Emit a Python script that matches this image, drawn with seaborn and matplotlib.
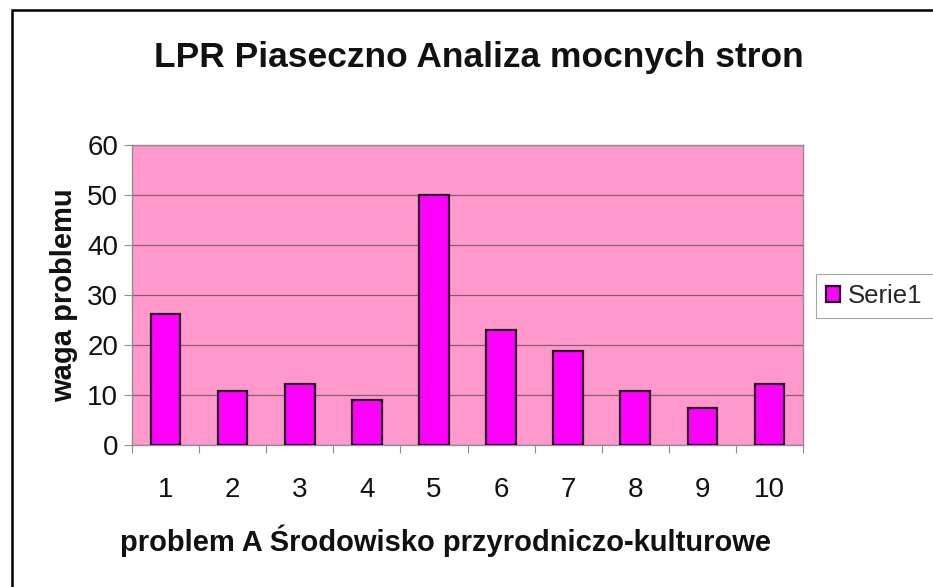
import numpy as np
import pandas as pd
import matplotlib
matplotlib.use('Agg')
import matplotlib.pyplot as plt
from matplotlib.patches import Rectangle
from matplotlib.ticker import FixedLocator
import seaborn as sns

# dane
problemy = ['1', '2', '3', '4', '5', '6', '7', '8', '9', '10']
waga = [26.2, 10.8, 12.2, 9.0, 50.0, 23.0, 18.9, 10.8, 7.4, 12.2]
tytul = 'LPR Piaseczno Analiza mocnych stron'
os_x = 'problem A Środowisko przyrodniczo-kulturowe'
os_y = 'waga problemu'
seria = 'Serie1'

sns.set_style('white')
plt.rcParams['font.family'] = ['Liberation Sans', 'DejaVu Sans']

df = pd.DataFrame({'problem': problemy, 'waga': waga})

fig = plt.figure(figsize=(9.33, 5.87), dpi=100)
ax = fig.add_axes([132 / 933, 1 - 445 / 587, (803 - 132) / 933, (445 - 145) / 587])
ax.set_facecolor('#ff99cc')

sns.barplot(data=df, x='problem', y='waga', ax=ax, color='#ff00ff', saturation=1,
            edgecolor='#2a0a2a', linewidth=1.6, width=0.44, label=seria, zorder=3)
if ax.get_legend() is not None:
    ax.get_legend().remove()

ax.set_ylim(0, 60)
ax.set_xlim(-0.5, 9.5)
ax.set_yticks(np.arange(0, 61, 10))
ax.yaxis.grid(True, color='#8a5a70', linewidth=0.9, zorder=1)
ax.set_axisbelow(True)
for s in ax.spines.values():
    s.set_color('#909090')
    s.set_linewidth(1.0)

ax.tick_params(axis='y', which='major', length=6, width=0.8, color='#909090',
               labelsize=20, pad=4, direction='out', left=True, labelcolor='#111111')
ax.tick_params(axis='x', which='major', length=0, labelsize=20, pad=23, labelcolor='#111111')
ax.xaxis.set_minor_locator(FixedLocator(np.arange(-0.5, 10, 1)))
ax.tick_params(axis='x', which='minor', length=6, width=0.8, color='#909090',
               direction='out', bottom=True)

ax.set_xlabel(os_x, fontsize=21, fontweight='bold', color='#111111', va='center')
ax.xaxis.set_label_coords((446 - 132) / 671, -(541 - 445) / 300)
ax.set_ylabel(os_y, fontsize=21, fontweight='bold', color='#111111')
ax.yaxis.set_label_coords(-(132 - 78) / 671, 0.5)

fig.text(479 / 933, 1 - 57 / 587, tytul, ha='center', va='center',
         fontsize=25.5, fontweight='bold', color='#111111')

h, l = ax.get_legend_handles_labels()
leg = fig.legend(h, l, loc='center left', bbox_to_anchor=(816 / 933, 1 - 296 / 587),
                 fontsize=18.5, frameon=True, fancybox=False, handlelength=0.55,
                 handleheight=0.55, handletextpad=0.3, borderpad=0.4, borderaxespad=0)
leg.get_frame().set_edgecolor('#909090')
leg.get_frame().set_linewidth(0.8)

# ramka wokół całego wykresu
fig.patches.append(Rectangle((12 / 933, -0.1), 1.2, 1 - 10 / 587 + 0.1,
                             transform=fig.transFigure, fill=False,
                             edgecolor='black', linewidth=1.8))

fig.savefig('out.png', dpi=100)
